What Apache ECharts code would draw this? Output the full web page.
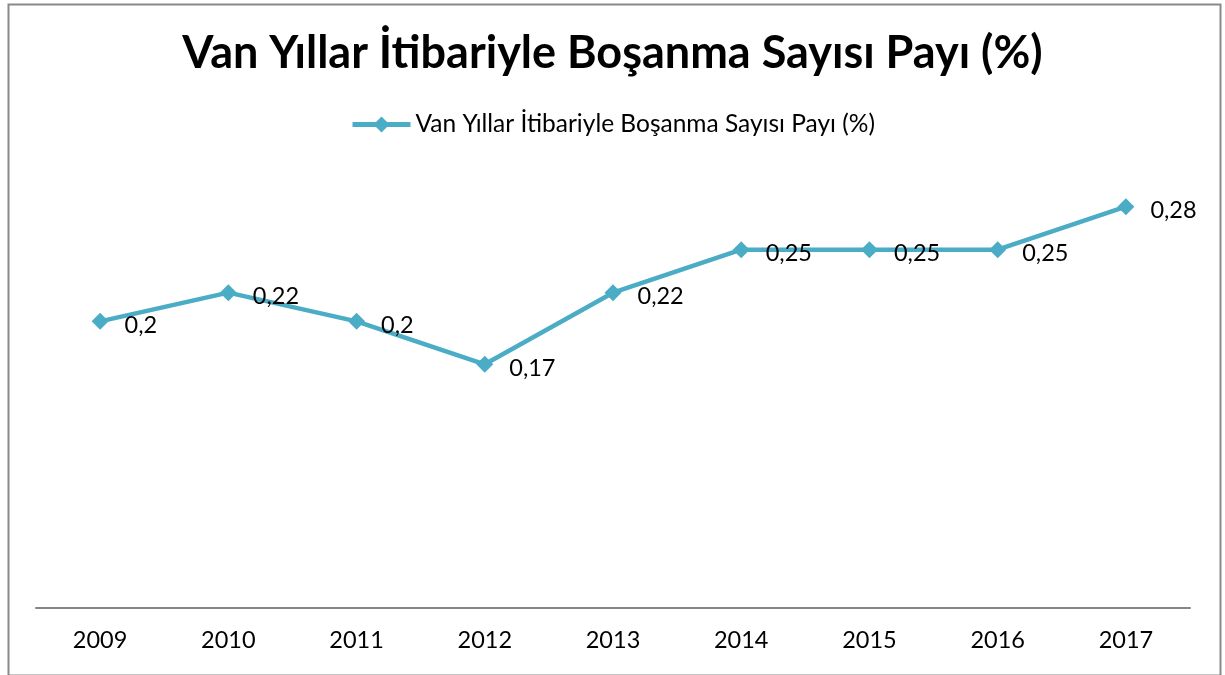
<!DOCTYPE html>
<html>
<head>
<meta charset="utf-8">
<script src="https://cdn.jsdelivr.net/npm/echarts@6/dist/echarts.min.js"></script>
<style>html,body{margin:0;padding:0;background:#fff}#c{width:1225px;height:675px}</style>
</head>
<body>
<div id="c"></div>
<script>
const titleText = 'Van Yıllar İtibariyle Boşanma Sayısı Payı (%)';
const seriesName = 'Van Yıllar İtibariyle Boşanma Sayısı Payı (%)';
const categories = ['2009','2010','2011','2012','2013','2014','2015','2016','2017'];
const values = [0.2, 0.22, 0.2, 0.17, 0.22, 0.25, 0.25, 0.25, 0.28];

const FONT = 'Lato';
const chart = echarts.init(document.getElementById('c'), null, {renderer:'canvas'});
chart.setOption({
  animation: false,
  backgroundColor: '#fff',
  graphic: [{
    type: 'rect', left: 6, top: 2, silent: true,
    shape: {width: 1212, height: 671},
    style: {fill: 'none', stroke: '#898989', lineWidth: 2}
  }],
  title: {
    text: titleText, left: 'center', top: 26,
    textStyle: {fontFamily: FONT, fontWeight: 'bold', fontSize: 45, color: '#000'}
  },
  legend: {
    top: 107, left: 'center', itemWidth: 58, itemHeight: 20, itemGap: 2,
    lineStyle: {width: 5},
    textStyle: {fontFamily: FONT, fontSize: 24.5, color: '#000'},
    data: [seriesName]
  },
  grid: {left: 36, right: 35, top: 178, bottom: 67, containLabel: false},
  xAxis: {
    type: 'category', data: categories, boundaryGap: true,
    axisLine: {lineStyle: {color: '#868686', width: 2}},
    axisTick: {show: false},
    axisLabel: {fontFamily: FONT, fontSize: 23.5, color: '#000', margin: 20}
  },
  yAxis: {
    type: 'value', min: 0, max: 0.3, show: false,
    splitLine: {show: false}
  },
  series: [{
    name: seriesName, type: 'line', data: values,
    symbol: 'diamond', symbolSize: 17,
    lineStyle: {color: '#4BACC6', width: 4.5},
    itemStyle: {color: '#4BACC6'},
    label: {
      show: true, position: 'right', distance: 16, offset: [0, 4],
      fontFamily: FONT, fontSize: 23.5, color: '#000',
      formatter: p => String(p.value).replace('.', ',')
    }
  }]
});
</script>
</body>
</html>
